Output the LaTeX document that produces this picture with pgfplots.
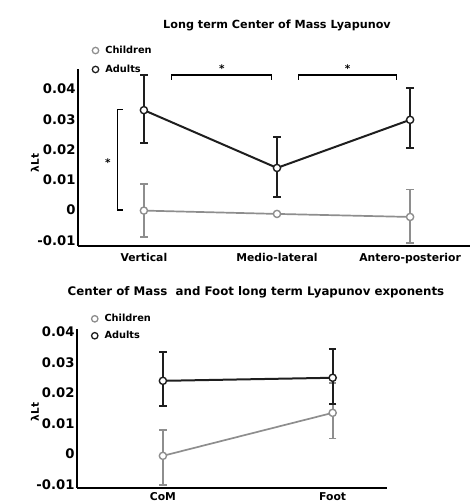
\documentclass[border=0pt]{standalone}
\usepackage{fontspec}
\setmainfont{DejaVu Sans}
\usepackage{pgfplots}
\pgfplotsset{compat=1.18}
\definecolor{adult}{HTML}{1E1E1E}
\definecolor{child}{HTML}{8E8E8E}
\pgfplotsset{
  legend image code/.code={\path (0pt,0pt) (11pt,0pt); \draw[#1] plot coordinates {(3.4pt,0pt)};},
}
\pgfplotsset{
  common/.style={
    scale only axis, axis lines=left,
    axis line style={-, line width=1.6pt, black},
    major tick length=0pt, clip=false,
    scaled y ticks=false,
    /pgf/number format/assume math mode=true,
    ytick={-0.01,0,0.01,0.02,0.03,0.04},
    yticklabels={-0.01,0,0.01,0.02,0.03,0.04},
    yticklabel style={font=\bfseries\fontsize{13.2}{13.2}\selectfont, anchor=east, xshift=1pt},
    xticklabel style={font=\bfseries\fontsize{10.8}{10.8}\selectfont, anchor=north, yshift=-4pt},
    legend style={draw=none, fill=none, inner sep=0pt, font=\bfseries\fontsize{9.8}{9.8}\selectfont, row sep=6pt, anchor=north west, legend cell align=left},
  },
  adultplot/.style={adult, line width=2pt, mark=*, mark size=3.6pt,
    mark options={fill=white, draw=adult, line width=1.4pt},
    error bars/.cd, y dir=both, y explicit,
    error bar style={line width=2pt, adult},
    error mark options={rotate=90, mark size=3.8pt, line width=2pt, adult}},
  childplot/.style={child, line width=1.7pt, mark=*, mark size=3.6pt,
    mark options={fill=white, draw=child, line width=1.4pt},
    error bars/.cd, y dir=both, y explicit,
    error bar style={line width=1.7pt, child},
    error mark options={rotate=90, mark size=3.8pt, line width=1.7pt, child}},
}
\begin{document}
\begin{tikzpicture}[x=1pt,y=1pt]
\useasboundingbox (0,0) rectangle (470,503);
% ---------- top chart ----------
\begin{axis}[common, at={(78pt,257pt)}, anchor=south west,
  width=392pt, height=177pt,
  xmin=-0.495, xmax=2.45, ymin=-0.0119, ymax=0.0466,
  xtick={0,1,2}, xticklabels={Vertical,Medio-lateral,Antero-posterior},
  legend style={at={(axis description cs:0.035,1.142)}}]
\addlegendimage{only marks, mark=*, mark size=3.2pt, mark options={fill=white, draw=child, line width=1.3pt}}
\addlegendentry{Children}
\addlegendimage{only marks, mark=*, mark size=3.2pt, mark options={fill=white, draw=adult, line width=1.3pt}}
\addlegendentry{Adults}
\addplot[forget plot, childplot] table[x=x, y=y, y error plus=ep, y error minus=em] {
x y ep em
0 -0.0002 0.0088 0.0088
1 -0.0013 0 0
2 -0.0023 0.0091 0.0085
};
\addplot[forget plot, adultplot] table[x=x, y=y, y error plus=ep, y error minus=em] {
x y ep em
0 0.0330 0.0115 0.0110
1 0.0139 0.0103 0.0095
2 0.0298 0.0106 0.0092
};
% significance brackets
\draw[line width=1.2pt] (axis cs:0.21,0.0430) -- (axis cs:0.21,0.0446) -- (axis cs:0.96,0.0446) -- (axis cs:0.96,0.0430);
\draw[line width=1.2pt] (axis cs:1.16,0.0430) -- (axis cs:1.16,0.0446) -- (axis cs:1.90,0.0446) -- (axis cs:1.90,0.0430);
\draw[line width=1.2pt] (axis cs:-0.158,0.0331) -- (axis cs:-0.20,0.0331) -- (axis cs:-0.20,0) -- (axis cs:-0.158,0);
\node[font=\bfseries\fontsize{10.5}{10.5}\selectfont] at (axis cs:0.585,0.0468) {*};
\node[font=\bfseries\fontsize{10.5}{10.5}\selectfont] at (axis cs:1.53,0.0468) {*};
\node[font=\bfseries\fontsize{10.5}{10.5}\selectfont] at (axis cs:-0.27,0.0158) {*};
\end{axis}
% ---------- bottom chart ----------
\begin{axis}[common, at={(77pt,15pt)}, anchor=south west,
  width=310pt, height=159pt,
  xmin=-0.506, xmax=1.32, ymin=-0.01115, ymax=0.041,
  xtick={0,1}, xticklabels={CoM,Foot},
  xticklabel style={yshift=1pt, inner sep=1pt},
  legend style={at={(axis description cs:0.045,1.106)}, row sep=4pt}]
\addlegendimage{only marks, mark=*, mark size=3.2pt, mark options={fill=white, draw=child, line width=1.3pt}}
\addlegendentry{Children}
\addlegendimage{only marks, mark=*, mark size=3.2pt, mark options={fill=white, draw=adult, line width=1.3pt}}
\addlegendentry{Adults}
\addplot[forget plot, childplot] table[x=x, y=y, y error plus=ep, y error minus=em] {
x y ep em
0 -0.0006 0.0085 0.0096
1 0.0135 0.0097 0.0084
};
\addplot[forget plot, adultplot] table[x=x, y=y, y error plus=ep, y error minus=em] {
x y ep em
0 0.0240 0.0095 0.0082
1 0.0250 0.0095 0.0086
};
\end{axis}
% titles and axis labels
\node[font=\bfseries\fontsize{11.2}{11.2}\selectfont] at (277,478) {Long term Center of Mass Lyapunov};
\node[font=\bfseries\fontsize{11.8}{11.8}\selectfont] at (256,211) {Center of Mass\ \ and Foot long term Lyapunov exponents};
\node[font=\bfseries\fontsize{10.5}{10.5}\selectfont, rotate=90] at (35,340) {λLt};
\node[font=\bfseries\fontsize{10.5}{10.5}\selectfont, rotate=90] at (35,91) {λLt};
\end{tikzpicture}
\end{document}
